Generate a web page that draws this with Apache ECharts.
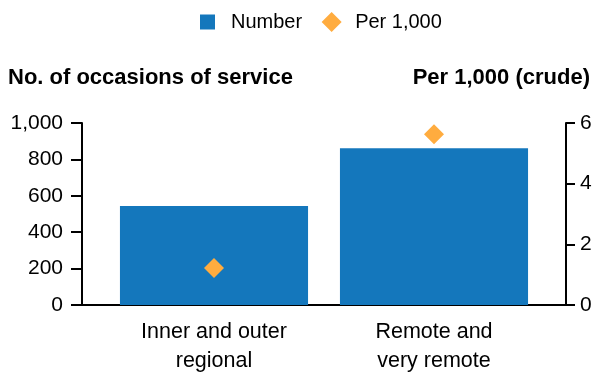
<!DOCTYPE html>
<html><head><meta charset="utf-8">
<script src="https://cdn.jsdelivr.net/npm/echarts@6/dist/echarts.min.js"></script>
<style>html,body{margin:0;padding:0;background:#fff}#c{width:597px;height:372px}</style>
</head><body><div id="c"></div>
<script>
const categories = ["Inner and outer\nregional", "Remote and\nvery remote"];
const numberValues = [544, 861];
const per1000Values = [1.22, 5.63];
const leftTicks = [0, 200, 400, 600, 800, 1000];
const rightTicks = [0, 2, 4, 6];
const seriesNames = ["Number", "Per 1,000"];
const axisTitles = ["No. of occasions of service", "Per 1,000 (crude)"];

const font = 'Arial, "Liberation Sans", sans-serif';
const tickFont = {fontFamily: font, fontSize: 21, color: '#000'};
const chart = echarts.init(document.getElementById('c'));
chart.setOption({
  animation: false,
  legend: {
    top: 7, left: 192.5, itemGap: 19.5, itemWidth: 20, itemHeight: 20,
    textStyle: {fontFamily: font, fontSize: 20, color: '#000', padding: [0, 0, 0, 8.5]},
    data: [
      {name: seriesNames[0], icon: 'path://M0,0M20,20M2.5,2.5h15v15h-15z'},
      {name: seriesNames[1], icon: 'path://M10,0L20,10L10,20L0,10Z'}
    ]
  },
  graphic: [
    {type: 'text', left: 8, top: 67, style: {text: axisTitles[0], font: 'bold 22px ' + font, fill: '#000'}},
    {type: 'text', right: 7, top: 67, style: {text: axisTitles[1], font: 'bold 22px ' + font, fill: '#000'}}
  ],
  grid: [
    {left: 82, right: 31, top: 123, bottom: 67, outerBoundsMode: 'none', containLabel: false},
    {left: 104, right: 53, top: 123, bottom: 67, outerBoundsMode: 'none', containLabel: false}
  ],
  xAxis: [
    {type: 'category', gridIndex: 0, data: categories,
     axisLine: {lineStyle: {color: '#000', width: 2}},
     axisTick: {show: false}, axisLabel: {show: false}},
    {type: 'category', gridIndex: 1, data: categories,
     axisLine: {show: false},
     axisTick: {show: false},
     axisLabel: {fontFamily: font, fontSize: 21.5, color: '#000', lineHeight: 29, margin: 13}}
  ],
  yAxis: [
    {type: 'value', gridIndex: 0, min: 0, max: 1000, interval: 200, position: 'left',
     splitLine: {show: false},
     axisLine: {show: true, lineStyle: {color: '#000', width: 2}},
     axisTick: {show: true, length: 11, lineStyle: {width: 2}},
     axisLabel: Object.assign({margin: 19, formatter: v => v.toLocaleString('en-US')}, tickFont)},
    {type: 'value', gridIndex: 0, min: 0, max: 6, interval: 2, position: 'right',
     splitLine: {show: false},
     axisLine: {show: true, lineStyle: {color: '#000', width: 2}},
     axisTick: {show: true, length: 9, lineStyle: {width: 2}},
     axisLabel: Object.assign({margin: 14}, tickFont)},
    {type: 'value', gridIndex: 1, min: 0, max: 1000, show: false, splitLine: {show: false}},
    {type: 'value', gridIndex: 1, min: 0, max: 6, show: false, splitLine: {show: false}}
  ],
  series: [
    {name: seriesNames[0], type: 'bar', xAxisIndex: 1, yAxisIndex: 2, data: numberValues, barWidth: '85.5%',
     itemStyle: {color: '#1477BC'}},
    {name: seriesNames[1], type: 'scatter', xAxisIndex: 1, yAxisIndex: 3, data: per1000Values,
     symbol: 'diamond', symbolSize: 20, itemStyle: {color: '#FFAC3F', opacity: 1}}
  ]
});
</script></body></html>
